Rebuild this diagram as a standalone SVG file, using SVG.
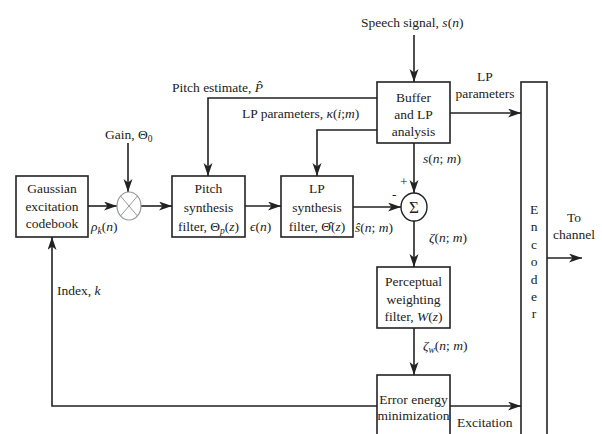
<svg xmlns="http://www.w3.org/2000/svg" width="602" height="434" viewBox="0 0 602 434">
<style>
.box{fill:#fff;stroke:#222;stroke-width:1.6}
.ln{fill:none;stroke:#222;stroke-width:1.6}
.arr{marker-end:url(#ah)}
text{font-family:'Liberation Serif','Times New Roman',Tinos,'DejaVu Serif',serif;font-size:13.5px;fill:#222}
.c{text-anchor:middle}
.i{font-style:italic}
.sub{font-size:9.5px}
</style>
<defs>
<marker id="ah" markerUnits="userSpaceOnUse" markerWidth="14" markerHeight="10" refX="13" refY="4.5" orient="auto">
<path d="M0,0 L13,4.5 L0,9 L3.5,4.5 z" fill="#222"/>
</marker>
</defs>
<rect width="602" height="434" fill="#fff"/>
<g id="connectors">
<line class="ln arr" x1="88" y1="206" x2="117" y2="206"/>
<line class="ln arr" x1="128" y1="143" x2="128" y2="192"/>
<line class="ln arr" x1="141" y1="206" x2="172" y2="206"/>
<line class="ln arr" x1="245" y1="206" x2="281" y2="206"/>
<line class="ln arr" x1="353" y1="207" x2="401" y2="207"/>
<line class="ln arr" x1="414" y1="35" x2="414" y2="82"/>
<polyline class="ln arr" points="377,98 208,98 208,176"/>
<polyline class="ln arr" points="377,130 317,130 317,176"/>
<line class="ln arr" x1="450" y1="113" x2="521" y2="113"/>
<line class="ln arr" x1="414" y1="143" x2="414" y2="193"/>
<line class="ln arr" x1="414" y1="221" x2="414" y2="267"/>
<line class="ln arr" x1="414" y1="328" x2="414" y2="375"/>
<line class="ln arr" x1="450" y1="406" x2="521" y2="406"/>
<polyline class="ln arr" points="377,406 52,406 52,237"/>
<line class="ln arr" x1="547" y1="258" x2="582" y2="258"/>
</g>
<g id="gaussian">
<rect class="box" x="16" y="176" width="72" height="61"/>
<text class="c" x="52" y="193">Gaussian</text>
<text class="c" x="52" y="211">excitation</text>
<text class="c" x="52" y="228">codebook</text>
</g>
<g id="multiplier">
<ellipse cx="129" cy="206" rx="12" ry="14" fill="#fff" stroke="#999" stroke-width="1.2"/>
<path d="M120.5,196 L137.5,216 M137.5,196 L120.5,216" stroke="#999" stroke-width="1" fill="none"/>
</g>
<g id="pitch">
<rect class="box" x="172" y="176" width="73" height="61"/>
<text class="c" x="208.5" y="193">Pitch</text>
<text class="c" x="208.5" y="212">synthesis</text>
<text class="c" x="208.5" y="231">filter, Θ<tspan class="sub i" dy="3">p</tspan><tspan dy="-3">(</tspan><tspan class="i">z</tspan>)</text>
</g>
<g id="lp">
<rect class="box" x="281" y="176" width="72" height="61"/>
<text class="c" x="317" y="193">LP</text>
<text class="c" x="317" y="212">synthesis</text>
<text class="c" x="317" y="231">filter, Θ̂(<tspan class="i">z</tspan>)</text>
</g>
<g id="sum">
<ellipse cx="414" cy="207" rx="13" ry="14" fill="#fff" stroke="#222" stroke-width="1.4"/>
<text class="c" x="414" y="213" style="font-size:17px">Σ</text>
</g>
<g id="buffer">
<rect class="box" x="377" y="82" width="73" height="61"/>
<text class="c" x="413.5" y="102">Buffer</text>
<text class="c" x="413.5" y="119">and LP</text>
<text class="c" x="413.5" y="136">analysis</text>
</g>
<g id="perceptual">
<rect class="box" x="377" y="267" width="73" height="61"/>
<text class="c" x="413.5" y="286">Perceptual</text>
<text class="c" x="413.5" y="304">weighting</text>
<text class="c" x="413.5" y="321">filter, <tspan class="i">W</tspan>(<tspan class="i">z</tspan>)</text>
</g>
<g id="error">
<rect class="box" x="377" y="375" width="73" height="70"/>
<text class="c" x="413.5" y="404">Error energy</text>
<text class="c" x="413.5" y="420">minimization</text>
</g>
<g id="encoder">
<rect class="box" x="521" y="82" width="26" height="370"/>
<text class="c" x="534" y="214">E</text>
<text class="c" x="534" y="231">n</text>
<text class="c" x="534" y="249">c</text>
<text class="c" x="534" y="266">o</text>
<text class="c" x="534" y="284">d</text>
<text class="c" x="534" y="301">e</text>
<text class="c" x="534" y="318">r</text>
</g>
<g id="labels">
<text x="361" y="27">Speech signal, <tspan class="i">s</tspan>(<tspan class="i">n</tspan>)</text>
<text x="172" y="92">Pitch estimate, <tspan class="i">P̂</tspan></text>
<text x="242" y="118">LP parameters, <tspan class="i">κ</tspan>(<tspan class="i">i</tspan>;<tspan class="i">m</tspan>)</text>
<text x="105" y="139">Gain, Θ<tspan class="sub" dy="3">0</tspan></text>
<text class="c" x="485" y="81">LP</text>
<text class="c" x="485" y="98">parameters</text>
<text x="423" y="163"><tspan class="i">s</tspan>(<tspan class="i">n</tspan>; <tspan class="i">m</tspan>)</text>
<text x="400" y="186">+</text>
<text x="392" y="199">-</text>
<text x="91" y="231"><tspan class="i">ρ</tspan><tspan class="sub i" dy="3">k</tspan><tspan dy="-3">(</tspan><tspan class="i">n</tspan>)</text>
<text x="250" y="231"><tspan class="i">ϵ</tspan>(<tspan class="i">n</tspan>)</text>
<text x="355" y="232"><tspan class="i">ŝ</tspan>(<tspan class="i">n</tspan>; <tspan class="i">m</tspan>)</text>
<text x="429" y="242"><tspan class="i">ζ</tspan>(<tspan class="i">n</tspan>; <tspan class="i">m</tspan>)</text>
<text x="423" y="350"><tspan class="i">ζ</tspan><tspan class="sub i" dy="3">w</tspan><tspan dy="-3">(</tspan><tspan class="i">n</tspan>; <tspan class="i">m</tspan>)</text>
<text x="457" y="427">Excitation</text>
<text class="c" x="574" y="222">To</text>
<text class="c" x="574" y="239">channel</text>
<text x="57" y="295">Index, <tspan class="i">k</tspan></text>
</g>
</svg>
